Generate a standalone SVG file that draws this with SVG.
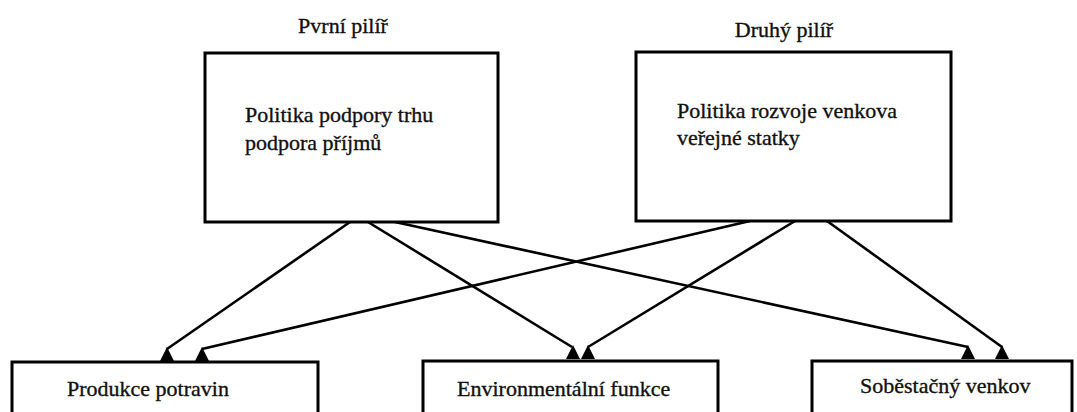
<svg xmlns="http://www.w3.org/2000/svg" width="1077" height="412" viewBox="0 0 1077 412">
<style>
.box{fill:#fff;stroke:#000;stroke-width:3}
.t{font-family:'Liberation Serif','Times New Roman',serif;font-size:22px;fill:#111;stroke:#111;stroke-width:0.35}
.c{text-anchor:middle}
.ln{stroke:#000;stroke-width:2.6;fill:none}
.ah{fill:#000}
</style>
<defs>
<path id="tri" class="ah" d="M0 0 L7 14 L-7 14 Z"/>
</defs>
<rect width="1077" height="412" fill="#fff"/>
<g id="connectors">
<line class="ln" x1="350" y1="222" x2="167" y2="349"/>
<line class="ln" x1="750" y1="221" x2="202" y2="349"/>
<line class="ln" x1="368" y1="222" x2="572" y2="347"/>
<line class="ln" x1="795" y1="221" x2="588" y2="347"/>
<line class="ln" x1="395" y1="222" x2="968" y2="347"/>
<line class="ln" x1="827" y1="221" x2="1002" y2="347"/>
<use href="#tri" x="167" y="347"/>
<use href="#tri" x="202" y="347"/>
<use href="#tri" x="573" y="345"/>
<use href="#tri" x="588" y="345"/>
<use href="#tri" x="968" y="345"/>
<use href="#tri" x="1002" y="345"/>
</g>
<g id="pillar1">
<text class="t c" x="343" y="33">Pvrní pilíř</text>
<rect class="box" x="205" y="53" width="293" height="169"/>
<text class="t" x="245" y="122">Politika podpory trhu</text>
<text class="t" x="245" y="150">podpora příjmů</text>
</g>
<g id="pillar2">
<text class="t c" x="784" y="37">Druhý pilíř</text>
<rect class="box" x="636" y="52" width="315" height="169"/>
<text class="t" x="677" y="118">Politika rozvoje venkova</text>
<text class="t" x="677" y="145">veřejné statky</text>
</g>
<g id="produkce">
<rect class="box" x="12" y="362" width="306" height="60"/>
<text class="t" x="67" y="396">Produkce potravin</text>
</g>
<g id="environmentalni">
<rect class="box" x="423" y="361" width="295" height="60"/>
<text class="t" x="457" y="396">Environmentální funkce</text>
</g>
<g id="sobestacny">
<rect class="box" x="812" y="361" width="260" height="60"/>
<text class="t" x="860" y="393">Soběstačný venkov</text>
</g>
</svg>
